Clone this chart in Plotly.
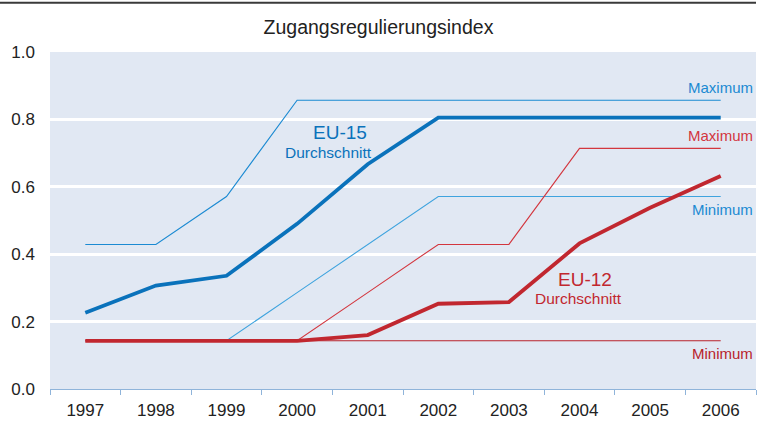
import plotly.graph_objects as go

years = ["1997", "1998", "1999", "2000", "2001", "2002", "2003", "2004", "2005", "2006"]
eu15_max = [0.429, 0.429, 0.571, 0.857, 0.857, 0.857, 0.857, 0.857, 0.857, 0.857]
eu15_avg = [0.226, 0.307, 0.336, 0.49, 0.667, 0.805, 0.805, 0.805, 0.805, 0.805]
eu15_min = [0.143, 0.143, 0.143, 0.286, 0.429, 0.571, 0.571, 0.571, 0.571, 0.571]
eu12_max = [0.143, 0.143, 0.143, 0.143, 0.286, 0.429, 0.429, 0.714, 0.714, 0.714]
eu12_avg = [0.143, 0.143, 0.143, 0.143, 0.16, 0.253, 0.258, 0.432, 0.538, 0.632]
eu12_min = [0.143, 0.143, 0.143, 0.143, 0.143, 0.143, 0.143, 0.143, 0.143, 0.143]
y_ticks = [0.0, 0.2, 0.4, 0.6, 0.8, 1.0]
y_tick_text = ["0.0", "0.2", "0.4", "0.6", "0.8", "1.0"]

BLUE = "#0a72bb"
BLUE_THIN = "#1b8ad2"
BLUE_MIN = "#3ea3de"
RED = "#c1272f"
RED_THIN = "#d3363e"
RED_MIN = "#b8232b"

fig = go.Figure()

def add(y, color, width):
    fig.add_trace(go.Scatter(x=years, y=y, mode="lines",
                             line=dict(color=color, width=width),
                             hoverinfo="skip", showlegend=False))

add(eu12_min, RED_MIN, 1.1)
add(eu15_max, BLUE_THIN, 1.1)
add(eu15_min, BLUE_MIN, 1.1)
add(eu12_max, RED_THIN, 1.1)
add(eu15_avg, BLUE, 3.8)
add(eu12_avg, RED, 3.8)

F = "Liberation Sans, Arial, sans-serif"
side = [
    dict(y=0.857, text="Maximum", color=BLUE_THIN, yanchor="bottom", yshift=2),
    dict(y=0.714, text="Maximum", color=RED_THIN, yanchor="bottom", yshift=2),
    dict(y=0.571, text="Minimum", color=BLUE_THIN, yanchor="top", yshift=-2),
    dict(y=0.143, text="Minimum", color=RED_MIN, yanchor="top", yshift=-2),
]
for a in side:
    fig.add_annotation(x=0.998, xref="paper", y=a["y"], yref="y", text=a["text"], showarrow=False,
                       xanchor="right", yanchor=a["yanchor"], yshift=a["yshift"],
                       font=dict(family=F, size=15, color=a["color"]))
mid = [
    dict(x=3.61, y=0.762, text="EU-15", color=BLUE, size=19),
    dict(x=3.44, y=0.703, text="Durchschnitt", color=BLUE, size=15.5),
    dict(x=7.08, y=0.326, text="EU-12", color=RED, size=19),
    dict(x=6.98, y=0.268, text="Durchschnitt", color=RED, size=15.5),
]
for a in mid:
    fig.add_annotation(x=a["x"], y=a["y"], xref="x", yref="y", text=a["text"], showarrow=False,
                       xanchor="center", yanchor="middle",
                       font=dict(family=F, size=a["size"], color=a["color"]))

fig.add_shape(type="line", xref="paper", yref="paper", x0=-0.075, x1=1.0, y0=1.146, y1=1.146,
              line=dict(color="#3a3a3a", width=2))

fig.update_layout(
    width=757, height=421,
    margin=dict(l=50, r=1, t=52, b=32),
    paper_bgcolor="white",
    plot_bgcolor="#e1e8f3",
    title=dict(text="Zugangsregulierungsindex", x=0.5, xref="container", y=0.935, yref="container",
               xanchor="center", yanchor="middle",
               font=dict(family=F, size=19.5, color="#222222")),
    font=dict(family=F, size=17, color="#222222"),
    xaxis=dict(type="category", range=[-0.5, 9.5], tickson="boundaries", ticks="outside",
               ticklen=5, tickcolor="#8fb4da", tickwidth=1, showline=True, linecolor="#8fb4da",
               linewidth=1, showgrid=False, ticklabelstandoff=6, automargin=False,
               tickfont=dict(family=F, size=17, color="#222222")),
    yaxis=dict(range=[0, 1.0], tickvals=y_ticks, ticktext=y_tick_text, showgrid=True,
               gridcolor="white", gridwidth=3, zeroline=False, showline=False,
               ticks="", ticklabelstandoff=14, automargin=False,
               tickfont=dict(family=F, size=17, color="#222222")),
)

fig.write_html("out.html", config={"displayModeBar": False},
               post_script="document.body.style.margin='0';")
